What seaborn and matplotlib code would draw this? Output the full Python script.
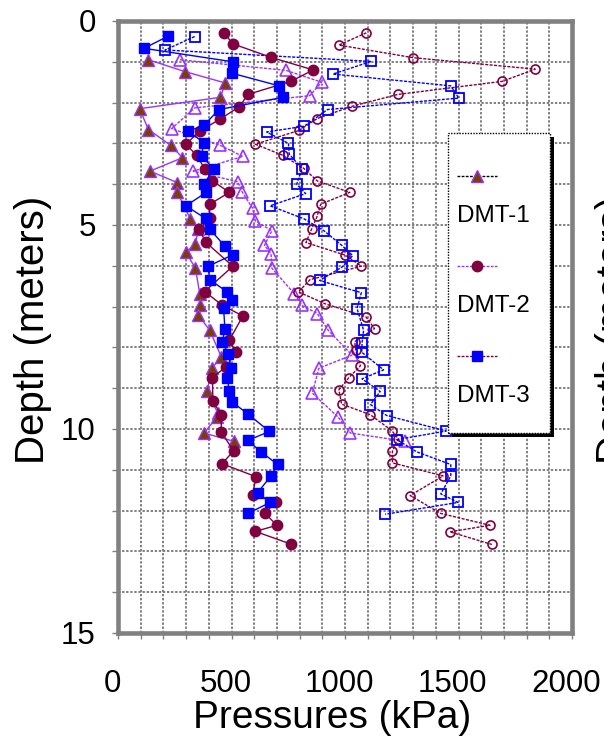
import matplotlib
matplotlib.use("Agg")
import matplotlib.pyplot as plt
import matplotlib.transforms as mtransforms
import seaborn as sns
from matplotlib.patches import Rectangle
from matplotlib.lines import Line2D
from matplotlib.ticker import MultipleLocator

# ---------------- data ----------------
dmt1_p0_depth = [0.95, 1.24, 1.52, 1.87, 2.15, 2.66, 3.05, 3.35, 3.68, 3.96, 4.20, 4.85, 5.10, 5.46,
                 5.67, 6.06, 6.68, 6.97, 7.20, 7.58, 8.23, 8.51, 9.08, 9.61, 9.71, 10.10, 10.30]
dmt1_p0_kpa = [134, 295, 473, 451, 95, 134, 233, 284, 141, 261, 261, 319, 354, 341,
               299, 341, 360, 360, 353, 404, 455, 414, 392, 440, 436, 379, 510]

dmt1_p1_depth = [0.95, 1.21, 1.50, 1.83, 2.13, 2.64, 3.05, 3.32, 3.68, 3.94, 4.19, 4.59, 4.90, 5.14,
                 5.50, 5.70, 6.06, 6.68, 6.97, 7.17, 7.58, 8.19, 8.51, 9.12, 9.71, 10.10, 10.30]
dmt1_p1_kpa = [273, 740, 897, 845, 338, 236, 451, 550, 331, 528, 547, 593, 605, 678,
               645, 674, 678, 776, 810, 878, 926, 1031, 885, 856, 970, 1024, 1265]

dmt2_p0_depth = [0.29, 0.56, 0.89, 1.20, 1.48, 1.80, 2.10, 2.40, 2.70, 3.02, 3.29, 3.62, 3.92, 4.20,
                 4.49, 4.84, 5.10, 5.42, 6.01, 6.63, 6.97, 7.23, 7.82, 8.12, 8.47, 8.74, 9.32,
                 9.65, 10.07, 10.54, 10.85, 11.17, 11.62, 11.78, 12.07, 12.36, 12.51, 12.82]
dmt2_p0_kpa = [467, 506, 674, 860, 761, 572, 535, 451, 360, 299, 346, 382, 416, 491,
               404, 404, 357, 386, 506, 382, 460, 550, 491, 518, 477, 416, 418,
               455, 455, 509, 458, 608, 593, 696, 648, 700, 605, 761]

dmt2_p1_depth = [0.29, 0.59, 0.90, 1.18, 1.48, 1.80, 2.09, 2.39, 2.68, 3.02, 3.29, 3.61, 3.92, 4.20,
                 4.49, 4.79, 5.10, 5.43, 5.74, 6.01, 6.34, 6.64, 6.93, 7.25, 7.54, 7.86, 8.06,
                 8.45, 8.74, 9.04, 9.39, 9.65, 10.04, 10.24, 10.54, 10.83, 11.15, 11.63, 12.07,
                 12.36, 12.52, 12.83]
dmt2_p1_kpa = [1094, 973, 1301, 1838, 1692, 1232, 1031, 878, 798, 605, 725, 818, 878, 1021,
               893, 877, 853, 828, 1002, 1072, 846, 795, 912, 1092, 1130, 1043, 1047,
               1068, 1017, 973, 985, 1112, 1206, 1235, 1209, 1209, 1432, 1287, 1422,
               1639, 1462, 1647]

dmt3_p0_depth = [0.37, 0.67, 1.00, 1.28, 1.59, 1.87, 2.17, 2.56, 2.70, 2.98, 3.30, 3.63, 4.00, 4.20,
                 4.53, 4.84, 5.10, 5.52, 5.73, 6.01, 6.34, 6.64, 6.83, 7.03, 7.54, 7.86, 8.15,
                 8.50, 8.76, 9.07, 9.34, 9.63, 10.06, 10.28, 10.56, 10.87, 11.15, 11.56, 11.80, 12.07]
dmt3_p0_kpa = [221, 115, 506, 502, 710, 728, 445, 378, 309, 378, 368, 421, 378, 389,
               299, 386, 404, 471, 506, 397, 404, 481, 503, 465, 471, 460, 484,
               499, 481, 491, 503, 572, 667, 572, 630, 703, 674, 615, 670, 572]

dmt3_p1_depth = [0.38, 0.71, 0.99, 1.30, 1.59, 1.89, 2.17, 2.58, 2.72, 3.00, 3.26, 3.62, 4.00, 4.23,
                 4.53, 4.85, 5.14, 5.50, 5.75, 6.03, 6.36, 6.66, 7.05, 7.58, 7.88, 8.12, 8.55,
                 8.77, 9.08, 9.40, 9.67, 10.05, 10.26, 10.56, 10.87, 11.15, 11.59, 11.80, 12.09]
dmt3_p1_kpa = [338, 207, 1116, 947, 1466, 1501, 923, 820, 655, 751, 754, 811, 787, 827,
               670, 820, 907, 986, 1034, 987, 888, 1072, 1053, 1082, 1075, 1074, 1170,
               1075, 1155, 1112, 1184, 1446, 1228, 1316, 1466, 1466, 1422, 1498, 1177]

legend_labels = ["DMT-1", "DMT-2", "DMT-3"]
x_ticks = [0, 500, 1000, 1500, 2000]
y_ticks = [0, 5, 10, 15]

# ---------------- styles ----------------
PURPLE = "#9933FF"
BROWN = "#7B3F00"
MAROON = "#800040"
BLUE = "#0000FF"
GRID = "#808080"

sns.set_theme(style="white")
plt.rcParams["font.family"] = ["Liberation Sans", "DejaVu Sans"]
plt.rcParams["text.color"] = "black"
plt.rcParams["axes.labelcolor"] = "black"

fig = plt.figure(figsize=(6.04, 7.44), dpi=100)
W, H = 604.0, 744.0
L, R, T, B = 118.0, 572.0, 21.0, 633.0
ax = fig.add_axes([L / W, 1 - B / H, (R - L) / W, (B - T) / H])

dash = (0, (2.2, 1.0))
series = [
    dict(x=dmt1_p1_kpa, y=dmt1_p1_depth, color=PURPLE, ls=dash, marker="^", ms=8.5,
         mfc="none", mec=PURPLE, mew=1.2),
    dict(x=dmt2_p1_kpa, y=dmt2_p1_depth, color=MAROON, ls=dash, marker="o", ms=6.5,
         mfc="none", mec=MAROON, mew=1.2),
    dict(x=dmt3_p1_kpa, y=dmt3_p1_depth, color=BLUE, ls=dash, marker="s", ms=7,
         mfc="none", mec=BLUE, mew=1.3),
    dict(x=dmt1_p0_kpa, y=dmt1_p0_depth, color=PURPLE, ls="-", marker="^", ms=8.5,
         mfc=BROWN, mec=PURPLE, mew=1.0),
    dict(x=dmt2_p0_kpa, y=dmt2_p0_depth, color=MAROON, ls="-", marker="o", ms=7.5,
         mfc=MAROON, mec=MAROON, mew=1.0),
    dict(x=dmt3_p0_kpa, y=dmt3_p0_depth, color=BLUE, ls="-", marker="s", ms=6.5,
         mfc=BLUE, mec=BLUE, mew=1.0),
]
for i, s in enumerate(series):
    sns.lineplot(x=s["x"], y=s["y"], sort=False, estimator=None, ax=ax,
                 color=s["color"], linestyle=s["ls"], linewidth=1.0,
                 marker=s["marker"], markersize=s["ms"], markerfacecolor=s["mfc"],
                 markeredgecolor=s["mec"], markeredgewidth=s["mew"], zorder=3 + i)

ax.set_xlim(0, 2000)
ax.set_ylim(15, 0)
ax.set_xticks(x_ticks)
ax.set_yticks(y_ticks)
ax.xaxis.set_minor_locator(MultipleLocator(100))
ax.yaxis.set_minor_locator(MultipleLocator(1))
ax.grid(True, which="both", color=GRID, linestyle=(0, (1.2, 0.9)), linewidth=1.4, zorder=1)
ax.set_axisbelow(True)
ax.tick_params(which="both", direction="out", length=4, width=1, color=GRID,
               bottom=True, left=True, top=False, right=False)
ax.tick_params(axis="x", which="major", labelsize=22.5, pad=22, labelcolor="black")
ax.tick_params(axis="y", which="major", labelsize=22.5, pad=12, labelcolor="black")
for sp in ax.spines.values():
    sp.set_color(GRID)
    sp.set_linewidth(3.3)
    sp.set_zorder(20)

# x tick labels sit slightly left of their ticks in the reference
shift = mtransforms.ScaledTranslation(-6 / 100.0, 0, fig.dpi_scale_trans)
for lab in ax.get_xticklabels():
    lab.set_transform(lab.get_transform() + shift)

ax.set_xlabel("Pressures (kPa)", fontsize=28, va="center", color="black")
ax.xaxis.set_label_coords((332 - L) / (R - L), (B - 718) / (B - T))
ax.set_ylabel("Depth (meters)", fontsize=29, va="center", color="black")
ax.yaxis.set_label_coords((33 - L) / (R - L), (B - 330) / (B - T))


def ax_x(px):
    return (px - L) / (R - L)


def ax_y(py):
    return (B - py) / (B - T)


# ---------------- legend box (Excel style) ----------------
bx0, bx1, by0, by1 = 448, 550, 133, 433
sh = 4
ax.add_patch(Rectangle((ax_x(bx0 + sh), ax_y(by1 + sh)), ax_x(bx1 + sh) - ax_x(bx0 + sh),
                       ax_y(by0 + sh) - ax_y(by1 + sh), transform=ax.transAxes,
                       facecolor="black", edgecolor="none", zorder=30, clip_on=False))
ax.add_patch(Rectangle((ax_x(bx0), ax_y(by1)), ax_x(bx1) - ax_x(bx0), ax_y(by0) - ax_y(by1),
                       transform=ax.transAxes, facecolor="white", edgecolor="black",
                       linestyle=(0, (1, 1)), linewidth=1.0, zorder=31, clip_on=False))

handles = [
    dict(line="black", marker="^", mfc=BROWN, mec=PURPLE, ms=8.5, hy=175.7, ty=216),
    dict(line=PURPLE, marker="o", mfc=MAROON, mec=MAROON, ms=7.5, hy=265.7, ty=306),
    dict(line=MAROON, marker="s", mfc=BLUE, mec=BLUE, ms=6.5, hy=355.7, ty=396),
]
for h, lab in zip(handles, legend_labels):
    ax.add_line(Line2D([ax_x(457), ax_x(497)], [ax_y(h["hy"])] * 2, transform=ax.transAxes,
                       color=h["line"], linestyle=(0, (2, 1)), linewidth=1.0, zorder=32,
                       clip_on=False))
    ax.add_line(Line2D([ax_x(477)], [ax_y(h["hy"])], transform=ax.transAxes, linestyle="none",
                       marker=h["marker"], markersize=h["ms"], markerfacecolor=h["mfc"],
                       markeredgecolor=h["mec"], markeredgewidth=1.0, zorder=33, clip_on=False))
    ax.text(ax_x(457), ax_y(h["ty"]), lab, transform=ax.transAxes, ha="left", va="center",
            fontsize=17.5, color="black", zorder=34)

# partially visible y label of the neighbouring chart at the right edge (cut off as in the reference)
fig.text(614 / W, 1 - 330 / H, "Depth (meters)", rotation=90, ha="center", va="center",
         fontsize=29, color="black")

fig.savefig("out.png", dpi=100)
